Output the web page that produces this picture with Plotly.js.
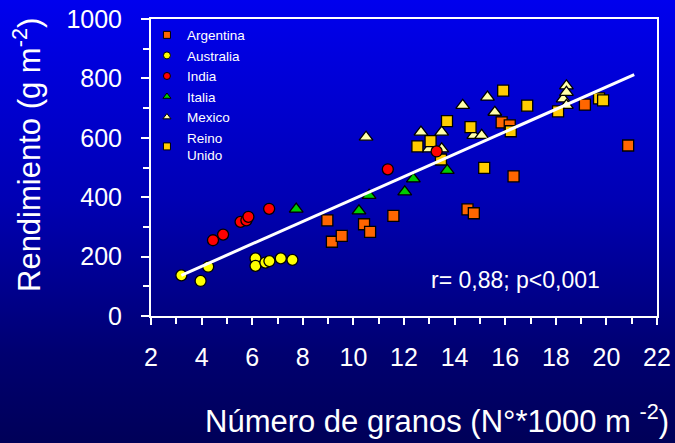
<!DOCTYPE html>
<html>
<head>
<meta charset="utf-8">
<script src="https://cdn.plot.ly/plotly-3.0.1.min.js"></script>
<style>
  html, body { margin: 0; padding: 0; width: 675px; height: 443px; overflow: hidden; }
  body { background: linear-gradient(to bottom, #0000ee 0%, #0000b4 45%, #000070 80%, #000058 100%); }
  #chart { width: 675px; height: 443px; }
</style>
</head>
<body>
<div id="chart"></div>
<script>
// Número de granos (x, N*1000 m-2) and Rendimiento (y, g m-2) per country
const argentinaX = [8.97, 9.15, 9.54, 10.42, 10.66, 11.58, 14.51, 14.76, 15.86, 16.18, 16.33, 19.15, 20.86];
const argentinaY = [322, 250, 270, 309, 283, 337, 359, 346, 652, 642, 470, 712, 574];

const australiaX = [3.20, 3.96, 4.26, 6.13, 6.13, 6.52, 6.68, 7.13, 7.59];
const australiaY = [137, 118, 166, 194, 169, 180, 185, 194, 189];

const indiaX = [4.45, 4.85, 5.54, 5.77, 5.85, 6.67, 11.36, 13.29];
const indiaY = [255, 274, 317, 322, 334, 361, 494, 554];

const italiaX = [7.74, 10.22, 10.62, 12.03, 12.37, 13.71];
const italiaY = [360, 354, 406, 418, 462, 490];

const mexicoX = [10.50, 12.67, 12.99, 13.49, 13.49, 14.32, 14.76, 15.07, 15.30, 15.59, 18.29, 18.42, 18.42, 18.42];
const mexicoY = [602, 619, 563, 563, 619, 709, 608, 608, 737, 686, 731, 775, 753, 709];

const reinoX = [12.53, 13.05, 13.46, 13.70, 14.63, 15.17, 15.92, 16.22, 16.87, 18.09, 19.71, 19.87];
const reinoY = [571, 589, 527, 656, 636, 499, 759, 622, 708, 689, 733, 726];

// regression line end points
const lineX = [3.2, 21.1];
const lineY = [137, 813];

const names = ['Argentina', 'Australia', 'India', 'Italia', 'Mexico', 'Reino<br>Unido'];
const xTickVals = [2, 4, 6, 8, 10, 12, 14, 16, 18, 20, 22];
const yTickVals = [0, 200, 400, 600, 800, 1000];

const FONT = 'Arial, "Liberation Sans", sans-serif';
const outline = {color: '#000000', width: 1.3};

const styles = {
  'Argentina': {symbol: 'square', color: '#ff6600', size: 11},
  'Australia': {symbol: 'circle', color: '#ffff00', size: 11},
  'India': {symbol: 'circle', color: '#ff0000', size: 11},
  'Italia': {symbol: 'triangle-up', color: '#00cc00', size: 12},
  'Mexico': {symbol: 'triangle-up', color: '#ffffaa', size: 12},
  'Reino<br>Unido': {symbol: 'square', color: '#ffcc00', size: 11}
};

function dataTrace(name, xs, ys) {
  const s = styles[name];
  return {
    type: 'scatter', mode: 'markers', x: xs, y: ys, name: name,
    legendgroup: name, showlegend: false,
    marker: {symbol: s.symbol, color: s.color, size: s.size, line: outline}
  };
}
function legendTrace(name) {
  const s = styles[name];
  return {
    type: 'scatter', mode: 'markers', x: [null], y: [null], name: name,
    legendgroup: name, showlegend: true, hoverinfo: 'skip',
    marker: {symbol: s.symbol, color: s.color, size: 7, line: {color: '#000000', width: 1}}
  };
}

const traces = [
  dataTrace('Argentina', argentinaX, argentinaY),
  dataTrace('Australia', australiaX, australiaY),
  dataTrace('Mexico', mexicoX, mexicoY),
  dataTrace('Reino<br>Unido', reinoX, reinoY),
  dataTrace('Italia', italiaX, italiaY),
  dataTrace('India', indiaX, indiaY),
  {type: 'scatter', mode: 'lines', x: lineX, y: lineY, showlegend: false, hoverinfo: 'skip',
   line: {color: '#ffffff', width: 3}}
].concat(names.map(legendTrace));

const layout = {
  width: 675, height: 443,
  margin: {l: 151, r: 18, t: 19, b: 127},
  paper_bgcolor: 'rgba(0,0,0,0)',
  plot_bgcolor: 'rgba(0,0,0,0)',
  font: {family: FONT, color: '#ffffff'},
  showlegend: true,
  legend: {
    x: -0.008, y: 0.998, xanchor: 'left', yanchor: 'top',
    bgcolor: 'rgba(0,0,0,0)', borderwidth: 0,
    font: {family: FONT, size: 13.5, color: '#ffffff'},
    itemwidth: 30, tracegroupgap: 0
  },
  xaxis: {
    range: [2, 22], showgrid: false, zeroline: false,
    showline: true, linecolor: '#ffffff', linewidth: 2, mirror: true,
    tickmode: 'array', tickvals: xTickVals,
    ticks: 'outside', ticklen: 7, tickwidth: 2, tickcolor: '#ffffff',
    minor: {dtick: 1, ticks: 'outside', ticklen: 6, tickwidth: 2, tickcolor: '#ffffff', showgrid: false},
    tickfont: {family: FONT, size: 25, color: '#ffffff'},
    ticklabelstandoff: 11
  },
  yaxis: {
    range: [0, 1000], showgrid: false, zeroline: false,
    showline: true, linecolor: '#ffffff', linewidth: 2, mirror: true,
    tickmode: 'array', tickvals: yTickVals,
    ticks: 'outside', ticklen: 8, tickwidth: 2, tickcolor: '#ffffff',
    minor: {dtick: 100, ticks: 'outside', ticklen: 6, tickwidth: 2, tickcolor: '#ffffff', showgrid: false},
    tickfont: {family: FONT, size: 25, color: '#ffffff'},
    ticklabelstandoff: 14
  },
  annotations: [
    {xref: 'paper', yref: 'paper', x: 0.72, y: 0.12, xanchor: 'center', yanchor: 'middle',
     showarrow: false, text: 'r= 0,88; p<0,001', font: {family: FONT, size: 23, color: '#ffffff'}},
    {xref: 'paper', yref: 'paper', x: (437 - 151) / 506, y: -(419 - 316) / 297, xanchor: 'center', yanchor: 'middle',
     showarrow: false, text: 'Número de granos (N°*1000 m <sup>-2</sup>)', font: {family: FONT, size: 31, color: '#ffffff'}},
    {xref: 'paper', yref: 'paper', x: -(151 - 27) / 506, y: (316 - 155) / 297, xanchor: 'center', yanchor: 'middle',
     textangle: -90, showarrow: false, text: 'Rendimiento (g m<sup>-2</sup>)', font: {family: FONT, size: 31, color: '#ffffff'}}
  ]
};

Plotly.newPlot('chart', traces, layout, {displayModeBar: false});
</script>
</body>
</html>
